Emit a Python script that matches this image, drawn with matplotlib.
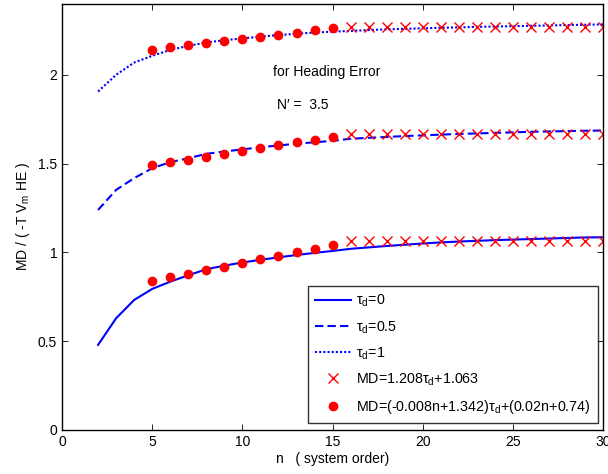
import numpy as np
import matplotlib
matplotlib.use("Agg")
import matplotlib.pyplot as plt

plt.rcParams["font.family"] = ["Liberation Sans", "DejaVu Sans"]
plt.rcParams["mathtext.fontset"] = "custom"
plt.rcParams["mathtext.rm"] = "Liberation Sans"
plt.rcParams["mathtext.it"] = "Liberation Sans:italic"
plt.rcParams["font.size"] = 10

# system order for the simulated curves
n_line = list(range(2, 31))
md_tau0 = [0.479, 0.629, 0.732, 0.794, 0.835, 0.871, 0.905, 0.925, 0.943,
           0.958, 0.972, 0.985, 0.997, 1.008, 1.020, 1.028, 1.036, 1.043,
           1.050, 1.056, 1.061, 1.065, 1.069, 1.072, 1.075, 1.078, 1.081,
           1.084, 1.085]
md_tau05 = [1.239, 1.352, 1.418, 1.474, 1.508, 1.530, 1.555, 1.568, 1.580,
            1.592, 1.602, 1.612, 1.620, 1.628, 1.640, 1.645, 1.650, 1.655,
            1.659, 1.663, 1.667, 1.670, 1.673, 1.676, 1.679, 1.681, 1.683,
            1.685, 1.686]
md_tau1 = [1.906, 2.000, 2.069, 2.107, 2.140, 2.163, 2.182, 2.195, 2.205,
           2.215, 2.224, 2.231, 2.238, 2.243, 2.247, 2.252, 2.256, 2.259,
           2.262, 2.265, 2.267, 2.270, 2.272, 2.274, 2.276, 2.278, 2.280,
           2.282, 2.284]

# fit for n >= 16 (constant in n)
n_cross = list(range(16, 31))
cross_tau0 = [1.063] * 15
cross_tau05 = [1.667] * 15
cross_tau1 = [2.271] * 15

# fit for 5 <= n <= 15
n_dot = list(range(5, 16))
dot_tau0 = [0.84, 0.86, 0.88, 0.90, 0.92, 0.94, 0.96, 0.98, 1.00, 1.02, 1.04]
dot_tau05 = [1.491, 1.507, 1.523, 1.539, 1.555, 1.571, 1.587, 1.603, 1.619,
             1.635, 1.651]
dot_tau1 = [2.142, 2.154, 2.166, 2.178, 2.190, 2.202, 2.214, 2.226, 2.238,
            2.250, 2.262]

fig = plt.figure(figsize=(6.08, 4.74), dpi=100)
ax = fig.add_axes([0.102, 0.093, 0.890, 0.899])

blue = "#0000ff"
ax.plot(n_line, md_tau0, "-", color=blue, lw=1.5, label="τ$_{\\rm d}$=0")
ax.plot(n_line, md_tau05, "--", color=blue, lw=1.5, dashes=(4, 2),
        label="τ$_{\\rm d}$=0.5")
ax.plot(n_line, md_tau1, ":", color=blue, lw=1.5, dashes=(1, 1),
        label="τ$_{\\rm d}$=1")

for i, ys in enumerate([cross_tau0, cross_tau05, cross_tau1]):
    ax.plot(n_cross, ys, "x", color="red", ms=7, mew=1.0,
            label="MD=1.208τ$_{\\rm d}$+1.063" if i == 0 else None)
for i, ys in enumerate([dot_tau0, dot_tau05, dot_tau1]):
    ax.plot(n_dot, ys, "o", color="red", ms=6,
            label="MD=(-0.008n+1.342)τ$_{\\rm d}$+(0.02n+0.74)" if i == 0 else None)

ax.text(11.72, 2.017, "for Heading Error", ha="left", va="center")
ax.text(11.94, 1.83, "N′ =  3.5", ha="left", va="center")

ax.set_xlim(0, 30)
ax.set_ylim(0, 2.4)
ax.set_xticks(np.arange(0, 31, 5))
ax.set_yticks([0, 0.5, 1, 1.5, 2])
ax.set_yticklabels(["0", "0.5", "1", "1.5", "2"])
ax.tick_params(direction="in", top=True, right=True, length=4, width=0.6)
for s in ax.spines.values():
    s.set_linewidth(1.0)

ax.set_xlabel("n   ( system order)", labelpad=2)
ax.set_ylabel("MD / ( -T V$_{\\rm m}$ HE )", labelpad=4)

leg = ax.legend(loc="lower right", bbox_to_anchor=(0.991, 0.017),
                borderaxespad=0, frameon=True, fancybox=False,
                edgecolor="black", handlelength=2.5, labelspacing=0.68,
                borderpad=0.5, handletextpad=0.4, fontsize=10.3)
leg.get_frame().set_linewidth(1.0)

fig.savefig("out.png", dpi=100)
